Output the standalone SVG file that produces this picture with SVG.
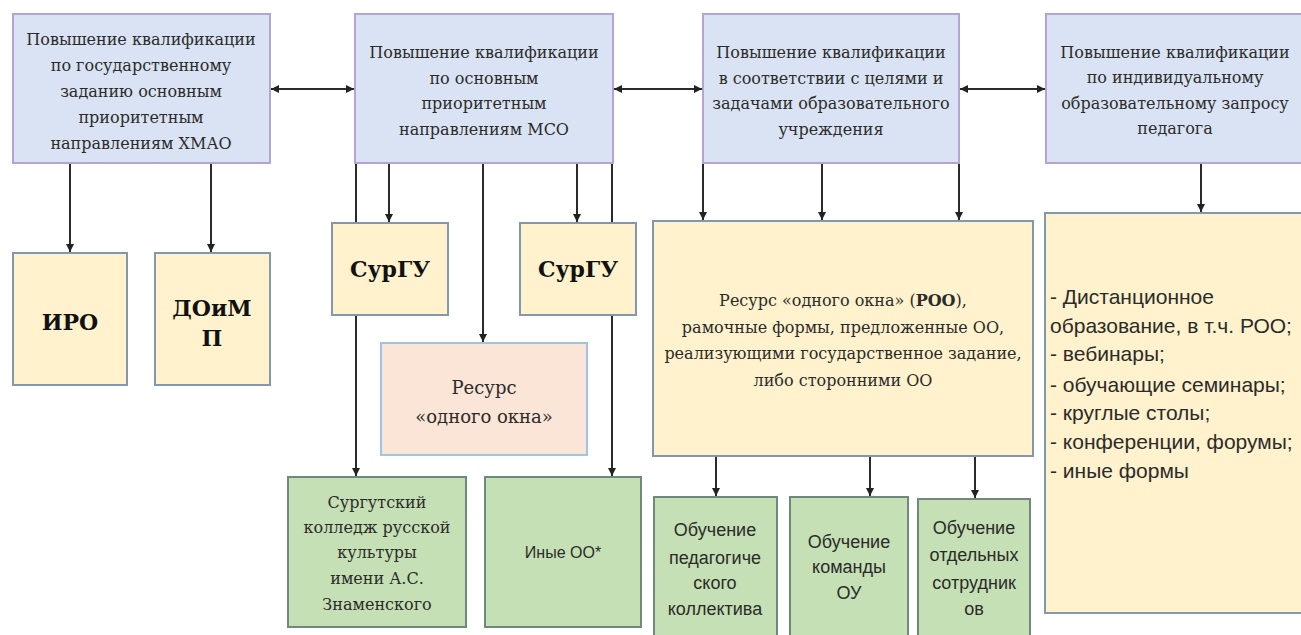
<svg xmlns="http://www.w3.org/2000/svg" width="1301" height="635" viewBox="0 0 1301 635">
<defs>
<marker id="ah" viewBox="0 0 10 10" refX="10" refY="5" markerWidth="4" markerHeight="4" orient="auto-start-reverse"><path d="M0,0 L10,5 L0,10 z" fill="#222"/></marker>
<style>
.top{fill:#dae3f3;stroke:#b4a3d4;stroke-width:2}
.yel{fill:#fff2cc;stroke:#8497b0;stroke-width:2}
.pink{fill:#fbe5d6;stroke:#9dc3e6;stroke-width:2}
.grn{fill:#c5e0b4;stroke:#6f8a7a;stroke-width:2}
.s{font-family:'DejaVu Serif','Liberation Serif',serif;font-size:16px;fill:#2b2b2b;text-anchor:middle}
.b{font-family:'DejaVu Serif','Liberation Serif',serif;font-size:22px;font-weight:bold;fill:#111;text-anchor:middle}
.ss{font-family:'Liberation Sans',sans-serif;font-size:18px;fill:#2b2b2b;text-anchor:middle}
.sl{font-family:'Liberation Sans',sans-serif;font-size:21px;fill:#2b2b2b}
.ca{stroke:#2b2b2b;stroke-width:2;fill:none;marker-end:url(#ah)}
.cd{stroke:#2b2b2b;stroke-width:2;fill:none;marker-start:url(#ah);marker-end:url(#ah)}
</style>
</defs>
<rect width="1301" height="635" fill="#ffffff"/>
<g id="connectors">
<line class="cd" x1="271" y1="89" x2="354" y2="89"/>
<line class="cd" x1="614" y1="89" x2="702" y2="89"/>
<line class="cd" x1="960" y1="89" x2="1045" y2="89"/>
<line class="ca" x1="70" y1="164" x2="70" y2="252"/>
<line class="ca" x1="211" y1="164" x2="211" y2="252"/>
<line class="ca" x1="356" y1="164" x2="356" y2="476"/>
<line class="ca" x1="389" y1="164" x2="389" y2="222"/>
<line class="ca" x1="483" y1="164" x2="483" y2="342"/>
<line class="ca" x1="577" y1="164" x2="577" y2="222"/>
<line class="ca" x1="612" y1="164" x2="612" y2="476"/>
<line class="ca" x1="703" y1="164" x2="703" y2="220"/>
<line class="ca" x1="822" y1="164" x2="822" y2="220"/>
<line class="ca" x1="959" y1="164" x2="959" y2="220"/>
<line class="ca" x1="1201" y1="164" x2="1201" y2="212"/>
<line class="ca" x1="716" y1="456" x2="716" y2="496"/>
<line class="ca" x1="870" y1="456" x2="870" y2="496"/>
<line class="ca" x1="975" y1="456" x2="975" y2="498"/>
</g>
<g id="top1"><rect class="top" x="13" y="14" width="257" height="149"/>
<text class="s"><tspan x="141" y="45">Повышение квалификации</tspan><tspan x="141" y="71">по государственному</tspan><tspan x="141" y="97">заданию основным</tspan><tspan x="141" y="123">приоритетным</tspan><tspan x="141" y="149">направлениям ХМАО</tspan></text></g>
<g id="top2"><rect class="top" x="355" y="14" width="258" height="149"/>
<text class="s"><tspan x="484" y="58">Повышение квалификации</tspan><tspan x="484" y="84">по основным</tspan><tspan x="484" y="109">приоритетным</tspan><tspan x="484" y="135">направлениям МСО</tspan></text></g>
<g id="top3"><rect class="top" x="703" y="14" width="256" height="149"/>
<text class="s"><tspan x="831" y="58">Повышение квалификации</tspan><tspan x="831" y="84">в соответствии с целями и</tspan><tspan x="831" y="109">задачами образовательного</tspan><tspan x="831" y="135">учреждения</tspan></text></g>
<g id="top4"><rect class="top" x="1046" y="14" width="270" height="149"/>
<text class="s"><tspan x="1175" y="58">Повышение квалификации</tspan><tspan x="1175" y="83">по индивидуальному</tspan><tspan x="1175" y="109">образовательному запросу</tspan><tspan x="1175" y="134">педагога</tspan></text></g>
<g id="iro"><rect class="yel" x="13" y="253" width="114" height="132"/><text class="b" x="70" y="330">ИРО</text></g>
<g id="doimp"><rect class="yel" x="155" y="253" width="115" height="132"/><text class="b"><tspan x="212" y="316">ДОиМ</tspan><tspan x="212" y="346">П</tspan></text></g>
<g id="surgu1"><rect class="yel" x="332" y="223" width="116" height="92"/><text class="b" x="390" y="277">СурГУ</text></g>
<g id="surgu2"><rect class="yel" x="520" y="223" width="116" height="92"/><text class="b" x="578" y="277">СурГУ</text></g>
<g id="resurs"><rect class="pink" x="381" y="343" width="206" height="112"/>
<text class="s" style="font-size:18px"><tspan x="484" y="394">Ресурс</tspan><tspan x="484" y="423">«одного окна»</tspan></text></g>
<g id="roo"><rect class="yel" x="653" y="221" width="380" height="235"/>
<text class="s"><tspan x="843" y="306">Ресурс «одного окна» (<tspan font-weight="bold">РОО</tspan>),</tspan><tspan x="843" y="333">рамочные формы, предложенные ОО,</tspan><tspan x="843" y="359">реализующими государственное задание,</tspan><tspan x="843" y="386">либо сторонними ОО</tspan></text></g>
<g id="college"><rect class="grn" x="288" y="477" width="178" height="150"/>
<text class="s"><tspan x="377" y="508">Сургутский</tspan><tspan x="377" y="533">колледж русской</tspan><tspan x="377" y="558">культуры</tspan><tspan x="377" y="584">имени А.С.</tspan><tspan x="377" y="610">Знаменского</tspan></text></g>
<g id="forms"><rect class="yel" x="1045" y="213" width="270" height="400"/>
<text class="sl"><tspan x="1050" y="304">- Дистанционное</tspan><tspan x="1050" y="333">образование, в т.ч. РОО;</tspan><tspan x="1050" y="361">- вебинары;</tspan><tspan x="1050" y="392">- обучающие семинары;</tspan><tspan x="1050" y="420">- круглые столы;</tspan><tspan x="1050" y="449">- конференции, форумы;</tspan><tspan x="1050" y="478">- иные формы</tspan></text></g>
<g id="inye"><rect class="grn" x="485" y="477" width="156" height="150"/><text class="ss" style="font-size:16px" x="563" y="558">Иные ОО*</text></g>
<g id="ob1"><rect class="grn" x="654" y="497" width="123" height="145"/>
<text class="ss"><tspan x="715" y="536">Обучение</tspan><tspan x="715" y="564">педагогиче</tspan><tspan x="715" y="589">ского</tspan><tspan x="715" y="615">коллектива</tspan></text></g>
<g id="ob2"><rect class="grn" x="790" y="497" width="118" height="145"/>
<text class="ss"><tspan x="849" y="548">Обучение</tspan><tspan x="849" y="573">команды</tspan><tspan x="849" y="599">ОУ</tspan></text></g>
<g id="ob3"><rect class="grn" x="918" y="499" width="112" height="145"/>
<text class="ss"><tspan x="974" y="534">Обучение</tspan><tspan x="974" y="561">отдельных</tspan><tspan x="974" y="589">сотрудник</tspan><tspan x="974" y="615">ов</tspan></text></g>
</svg>
